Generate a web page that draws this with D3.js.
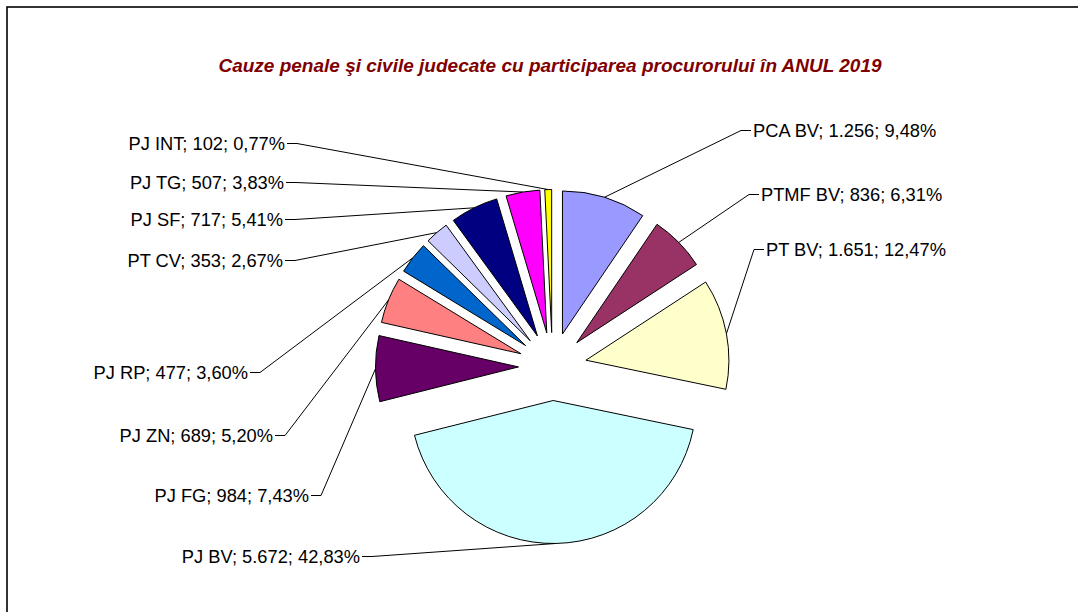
<!DOCTYPE html>
<html lang="ro">
<head>
<meta charset="UTF-8">
<title>Cauze penale si civile 2019</title>
<script src="https://d3js.org/d3.v7.min.js"></script>
<style>
  body { margin: 0; background: #fff; }
  svg { display: block; font-family: "Liberation Sans", Arial, sans-serif; }
  .label { font-size: 18.3px; fill: #000; }
  .title { font-size: 19px; font-weight: bold; font-style: italic; fill: #800000; }
  .leader { fill: none; stroke: #000; stroke-width: 1; }
  .slice { stroke: #000; stroke-width: 1; }
</style>
</head>
<body>
<div id="chart"></div>
<script>
// date
const categories = ["PCA BV", "PTMF BV", "PT BV", "PJ BV", "PJ FG", "PJ ZN", "PJ RP", "PT CV", "PJ SF", "PJ TG", "PJ INT"];
const values = [1256, 836, 1651, 5672, 984, 689, 477, 353, 717, 507, 102];
const colors = ["#9999FF", "#993366", "#FFFFCC", "#CCFFFF", "#660066", "#FF8080", "#0066CC", "#CCCCFF", "#000080", "#FF00FF", "#FFFF00"];
const title = "Cauze penale şi civile judecate cu participarea procurorului în ANUL 2019";

// layout: pozitia etichetelor (x, linia de baza), ancora
const labelPos = {
  "PCA BV":  [753, 137, "start"],
  "PTMF BV": [761, 201, "start"],
  "PT BV":   [766, 256, "start"],
  "PJ BV":   [360, 563, "end"],
  "PJ FG":   [309, 502, "end"],
  "PJ ZN":   [273, 442, "end"],
  "PJ RP":   [248, 379, "end"],
  "PT CV":   [283, 267, "end"],
  "PJ SF":   [283, 226, "end"],
  "PJ TG":   [284, 189, "end"],
  "PJ INT":  [285, 150, "end"]
};

const W = 1078, H = 612;
const cx = 552.5, cy = 366.5;
const radius = 143, explode = 34;

const ro = d3.formatLocale({decimal: ",", thousands: ".", grouping: [3], currency: ["", ""]});
const fmtVal = ro.format(",d");
const fmtPct = ro.format(".2f");

const svg = d3.select("#chart").append("svg")
  .attr("width", W).attr("height", H);

svg.append("rect").attr("width", W).attr("height", H).attr("fill", "#fff");

// chenar
svg.append("rect")
  .attr("x", 7).attr("y", 7)
  .attr("width", W + 20).attr("height", H + 20)
  .attr("fill", "none").attr("stroke", "#000").attr("stroke-width", 1.6);

svg.append("text")
  .attr("class", "title")
  .attr("x", 550).attr("y", 72)
  .attr("text-anchor", "middle")
  .text(title);

const data = categories.map((c, i) => ({name: c, value: values[i], color: colors[i]}));
const total = d3.sum(values);

const pie = d3.pie().sort(null).value(d => d.value);
const arc = d3.arc().innerRadius(0).outerRadius(radius);
const arcs = pie(data);

const dir = a => [Math.sin(a), -Math.cos(a)];

const g = svg.append("g").attr("transform", `translate(${cx},${cy})`);

g.selectAll("path.slice")
  .data(arcs)
  .join("path")
  .attr("class", "slice")
  .attr("fill", d => d.data.color)
  .attr("transform", d => {
    const m = (d.startAngle + d.endAngle) / 2;
    const [dx, dy] = dir(m);
    return `translate(${dx * explode},${dy * explode})`;
  })
  .attr("d", arc);

// linii de legatura + etichete
arcs.forEach(d => {
  const m = (d.startAngle + d.endAngle) / 2;
  const [dx, dy] = dir(m);
  const px = cx + dx * (explode + radius);
  const py = cy + dy * (explode + radius);
  const [lx, ly, anchor] = labelPos[d.data.name];
  const my = ly - 6.5;
  const e1 = anchor === "end" ? lx + 2 : lx - 2;
  const e2 = anchor === "end" ? lx + 12 : lx - 12;
  svg.append("path")
    .attr("class", "leader")
    .attr("d", d3.line()([[e1, my], [e2, my], [px, py]]));
  svg.append("text")
    .attr("class", "label")
    .attr("x", lx).attr("y", ly)
    .attr("text-anchor", anchor)
    .text(`${d.data.name}; ${fmtVal(d.data.value)}; ${fmtPct(d.data.value / total * 100)}%`);
});
</script>
</body>
</html>
